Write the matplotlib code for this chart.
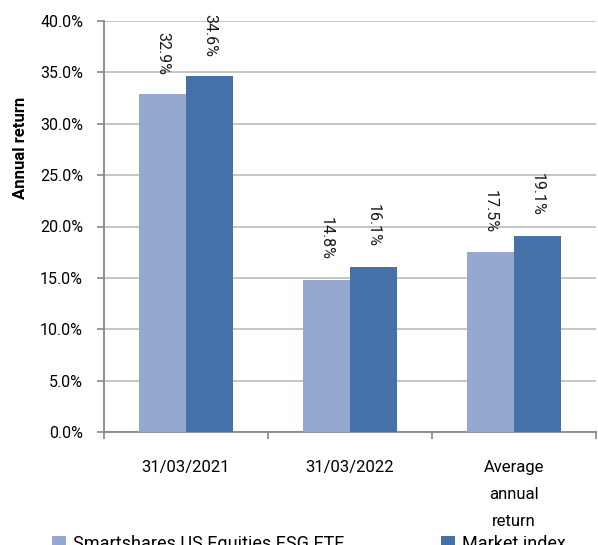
import numpy as np
import matplotlib
matplotlib.use('Agg')
import matplotlib.pyplot as plt
from matplotlib.ticker import FuncFormatter, FixedLocator

plt.rcParams['font.family'] = ['Roboto', 'DejaVu Sans']

categories = ['31/03/2021', '31/03/2022', 'Average\nannual\nreturn']
series_names = ['Smartshares US Equities ESG ETF', 'Market index']
etf_values = [32.9, 14.8, 17.5]
index_values = [34.6, 16.1, 19.1]

light = '#95A9D0'
dark = '#4472A8'

fig = plt.figure(figsize=(5.98, 5.45), dpi=100)
ax = fig.add_axes([104/598, 1 - 432/545, 492/598, 411/545])

x = np.arange(len(categories))
width = 0.285
b1 = ax.bar(x - width/2, etf_values, width, color=light, zorder=3, label=series_names[0])
b2 = ax.bar(x + width/2, index_values, width, color=dark, zorder=3, label=series_names[1])

for bars, vals in [(b1, etf_values), (b2, index_values)]:
    for r, v in zip(bars, vals):
        ax.annotate('%.1f%%' % v, (r.get_x() + r.get_width()/2, v),
                    xytext=(0, 14), textcoords='offset points',
                    rotation=270, ha='center', va='bottom', fontsize=11.5,
                    color='#1a1a1a', annotation_clip=False)

ax.set_xlim(-0.5, 2.5)
ax.set_ylim(0, 40)
ax.set_yticks(np.arange(0, 40.1, 5))
ax.yaxis.set_major_formatter(FuncFormatter(lambda v, p: '%.1f%%' % v))
ax.grid(axis='y', color='#C0C0C0', lw=1.3, zorder=0)

ax.xaxis.set_major_locator(FixedLocator([-0.5, 0.5, 1.5, 2.5]))
ax.xaxis.set_major_formatter(plt.NullFormatter())
ax.xaxis.set_minor_locator(FixedLocator(x))
ax.set_xticklabels(categories, minor=True, fontsize=12, linespacing=2.0, va='top')
ax.tick_params(axis='x', which='minor', length=0, pad=20)
ax.tick_params(axis='x', which='major', length=5, width=1.2, color='#888888')
ax.tick_params(axis='y', length=5, width=1.2, color='#888888', pad=10, labelsize=11.5)

for s in ['top', 'right']:
    ax.spines[s].set_visible(False)
for s in ['left', 'bottom']:
    ax.spines[s].set_color('#888888')
    ax.spines[s].set_linewidth(1.3)

fig.text(21/598, 1 - 148/545, 'Annual return', rotation=90, ha='center', va='center',
         fontsize=12, fontweight='bold')

fig.legend(handles=[b1], loc='upper left', bbox_to_anchor=(52/598, 1 - 535/545),
           frameon=False, borderpad=0, borderaxespad=0, handlelength=0.75, handleheight=0.75,
           handletextpad=0.4, fontsize=13)
fig.legend(handles=[b2], loc='upper left', bbox_to_anchor=(441/598, 1 - 535/545),
           frameon=False, borderpad=0, borderaxespad=0, handlelength=0.75, handleheight=0.75,
           handletextpad=0.4, fontsize=13)

fig.savefig('out.png', dpi=100)
